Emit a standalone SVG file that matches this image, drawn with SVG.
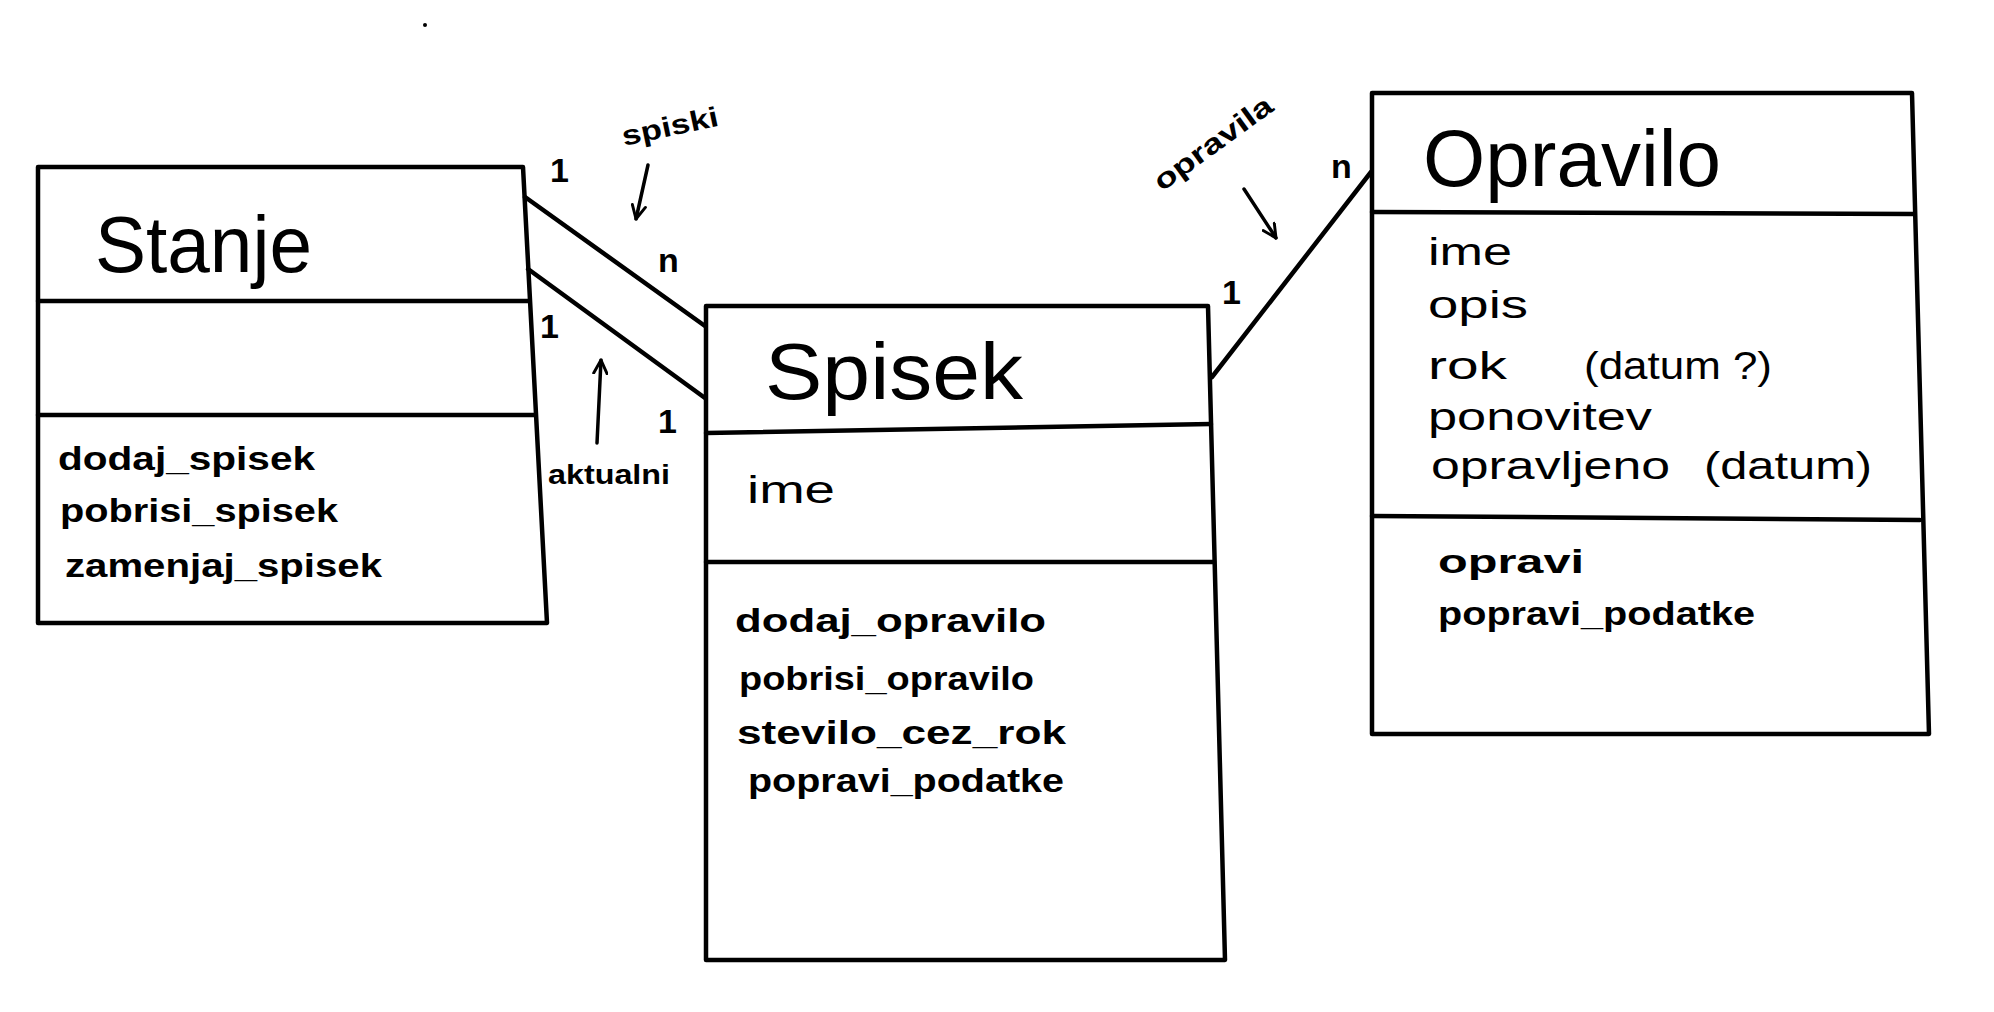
<svg xmlns="http://www.w3.org/2000/svg" width="1994" height="1012" viewBox="0 0 1994 1012">
<defs>
<style>
.box{fill:none;stroke:#000;stroke-width:4.5;stroke-linejoin:round;stroke-linecap:round}
.conn{fill:none;stroke:#000;stroke-width:4.5;stroke-linecap:round}
.arr{fill:none;stroke:#000;stroke-width:3.5;stroke-linecap:round}
.t{font-family:"Liberation Sans","DejaVu Sans",sans-serif;fill:#000}
.title{font-size:80px}
.m{font-size:34px;font-weight:bold}
.a{font-size:38px}
.lab{font-size:34px;font-weight:bold}
.note{font-size:28px;font-weight:bold}
</style>
<marker id="head" viewBox="0 0 12 12" refX="11" refY="6" markerWidth="16" markerHeight="16" markerUnits="userSpaceOnUse" orient="auto">
<path d="M1,1 L11,6 L1,11" fill="none" stroke="#000" stroke-width="2.2" stroke-linecap="round" stroke-linejoin="round"/>
</marker>
</defs>
<rect width="1994" height="1012" fill="#fff"/>
<circle cx="425" cy="25" r="2" fill="#000"/>

<g id="connectors">
<line class="conn" x1="525" y1="197" x2="705" y2="326"/>
<line class="conn" x1="528" y1="269" x2="705" y2="398"/>
<line class="conn" x1="1212" y1="377" x2="1371" y2="172"/>
<line class="arr" x1="648" y1="165" x2="636" y2="219" marker-end="url(#head)"/>
<line class="arr" x1="597" y1="443" x2="601" y2="360" marker-end="url(#head)"/>
<line class="arr" x1="1244" y1="189" x2="1276" y2="238" marker-end="url(#head)"/>
<text class="t lab" x="550" y="182">1</text>
<text class="t lab" x="658" y="272">n</text>
<text class="t lab" x="540" y="338">1</text>
<text class="t lab" x="658" y="433">1</text>
<text class="t note" x="548" y="484" textLength="122" lengthAdjust="spacingAndGlyphs">aktualni</text>
<text class="t note" x="624" y="146" textLength="98" lengthAdjust="spacingAndGlyphs" transform="rotate(-12 624 146)">spiski</text>
<text class="t note" x="1162" y="192" textLength="140" lengthAdjust="spacingAndGlyphs" transform="rotate(-36 1162 192)">opravila</text>
<text class="t lab" x="1331" y="178">n</text>
<text class="t lab" x="1222" y="304">1</text>
</g>

<g id="stanje">
<path class="box" d="M38,167 L523,167 L547,623 L38,623 Z"/>
<line class="box" x1="38" y1="301" x2="529" y2="301"/>
<line class="box" x1="38" y1="415" x2="535" y2="415"/>
<text class="t title" x="95" y="272" textLength="217" lengthAdjust="spacingAndGlyphs">Stanje</text>
<text class="t m" x="58" y="470" textLength="257" lengthAdjust="spacingAndGlyphs">dodaj_spisek</text>
<text class="t m" x="60" y="522" textLength="278" lengthAdjust="spacingAndGlyphs">pobrisi_spisek</text>
<text class="t m" x="65" y="577" textLength="317" lengthAdjust="spacingAndGlyphs">zamenjaj_spisek</text>
</g>

<g id="spisek">
<path class="box" d="M706,306 L1208,306 L1225,960 L706,960 Z"/>
<line class="box" x1="706" y1="433" x2="1211" y2="424"/>
<line class="box" x1="706" y1="562" x2="1214" y2="562"/>
<text class="t title" x="765" y="399" textLength="258" lengthAdjust="spacingAndGlyphs">Spisek</text>
<text class="t a" x="747" y="503" textLength="88" lengthAdjust="spacingAndGlyphs">ime</text>
<text class="t m" x="735" y="632" textLength="311" lengthAdjust="spacingAndGlyphs">dodaj_opravilo</text>
<text class="t m" x="739" y="690" textLength="295" lengthAdjust="spacingAndGlyphs">pobrisi_opravilo</text>
<text class="t m" x="737" y="744" textLength="329" lengthAdjust="spacingAndGlyphs">stevilo_cez_rok</text>
<text class="t m" x="748" y="792" textLength="316" lengthAdjust="spacingAndGlyphs">popravi_podatke</text>
</g>

<g id="opravilo">
<path class="box" d="M1372,93 L1912,93 L1929,734 L1372,734 Z"/>
<line class="box" x1="1372" y1="212" x2="1914" y2="214"/>
<line class="box" x1="1372" y1="516" x2="1920" y2="520"/>
<text class="t title" x="1423" y="186" textLength="298" lengthAdjust="spacingAndGlyphs">Opravilo</text>
<text class="t a" x="1428" y="265" textLength="84" lengthAdjust="spacingAndGlyphs">ime</text>
<text class="t a" x="1428" y="318" textLength="100" lengthAdjust="spacingAndGlyphs">opis</text>
<text class="t a" x="1428" y="379" textLength="79" lengthAdjust="spacingAndGlyphs">rok</text>
<text class="t a" x="1584" y="379" textLength="188" lengthAdjust="spacingAndGlyphs">(datum ?)</text>
<text class="t a" x="1428" y="430" textLength="224" lengthAdjust="spacingAndGlyphs">ponovitev</text>
<text class="t a" x="1431" y="479" textLength="239" lengthAdjust="spacingAndGlyphs">opravljeno</text>
<text class="t a" x="1704" y="479" textLength="168" lengthAdjust="spacingAndGlyphs">(datum)</text>
<text class="t m" x="1438" y="573" textLength="146" lengthAdjust="spacingAndGlyphs">opravi</text>
<text class="t m" x="1438" y="625" textLength="317" lengthAdjust="spacingAndGlyphs">popravi_podatke</text>
</g>
</svg>
